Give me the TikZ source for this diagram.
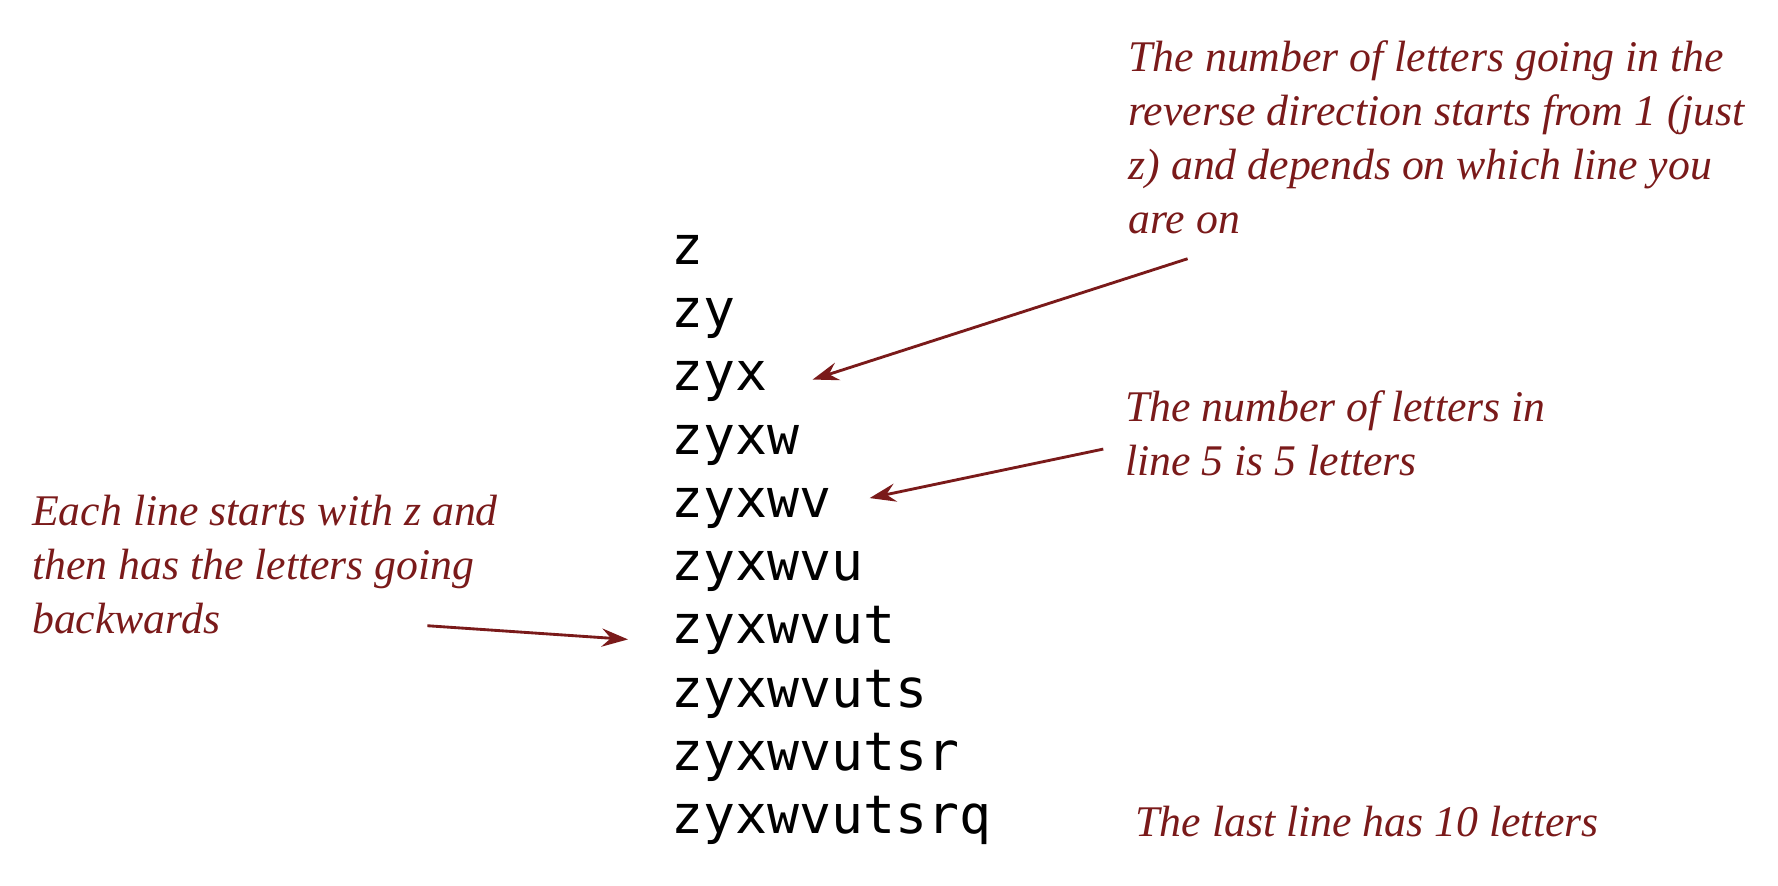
\documentclass[tikz,border=0pt]{standalone}
\usepackage{fontspec}
\newfontfamily\monofont{DejaVu Sans Mono}
\newfontfamily\notefont{Liberation Serif}
\usetikzlibrary{arrows.meta,calc}
\definecolor{annred}{RGB}{122,26,26}
\tikzset{
  codeline/.style={anchor=base west,inner sep=0pt,font=\monofont\fontsize{46.6}{55.5}\selectfont},
  note/.style={anchor=base west,inner sep=0pt,align=left,text=annred,font=\notefont\itshape\fontsize{38.4}{47.5}\selectfont},
  pointer/.style={draw=annred,line width=2.5pt,-{Stealth[length=23pt,width=16pt,inset=8pt]}}
}
\begin{document}
\begin{tikzpicture}[x=1pt,y=-1pt]
\path[use as bounding box] (0,0) rectangle (1560,777);
\foreach \t [count=\i] in {z,zy,zyx,zyxw,zyxwv,zyxwvu,zyxwvut,zyxwvuts,zyxwvutsr,zyxwvutsrq}
  \node[codeline] (l\i) at (589,{232+55.5*(\i-1)}) {\t};
% multi-line notes: placed at the baseline of their last line
\node[note] (n1) at (990,205) {The number of letters going in the\\reverse direction starts from 1 (just\\z) and depends on which line you\\are on};
\node[note] (n2) at (987,417) {The number of letters in\\line 5 is 5 letters};
\node[note] (n3) at (28,556) {Each line starts with z and\\then has the letters going\\backwards};
\node[note] (n4) at (996,734) {The last line has 10 letters};
\coordinate (a1s) at (1042,227);
\coordinate (a1e) at (713,333);
\coordinate (a2s) at (968,394);
\coordinate (a2e) at (763,437);
\coordinate (a3s) at (375,549);
\coordinate (a3e) at (551,561);
\draw[pointer] (a1s) -- (a1e);
\draw[pointer] (a2s) -- (a2e);
\draw[pointer] (a3s) -- (a3e);
\end{tikzpicture}
\end{document}
